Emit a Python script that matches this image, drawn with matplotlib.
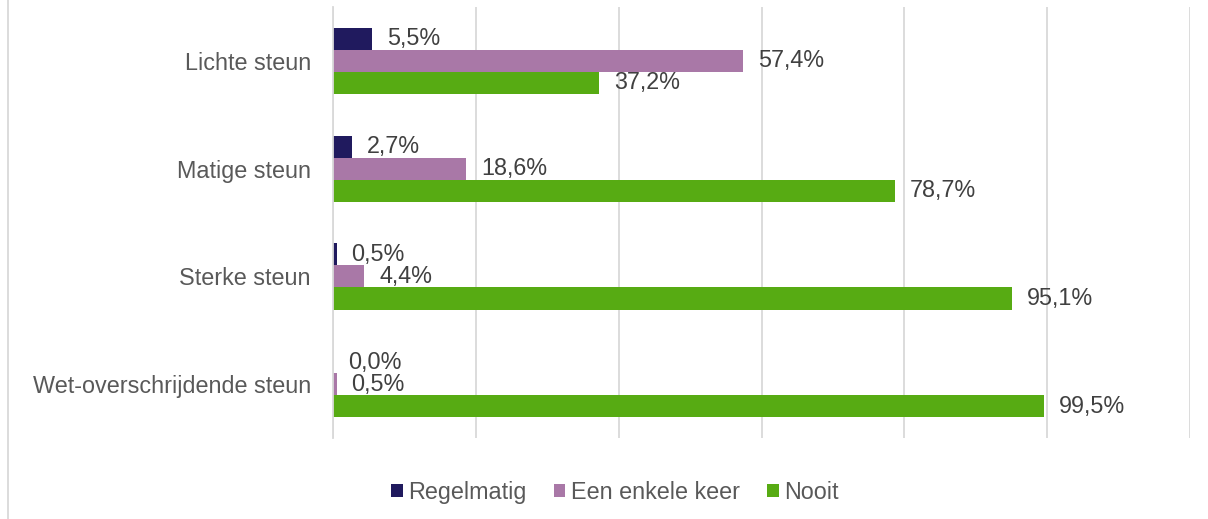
import matplotlib.pyplot as plt
import numpy as np
from matplotlib.lines import Line2D

# data
categories = ['Lichte steun', 'Matige steun', 'Sterke steun', 'Wet-overschrijdende steun']
series_names = ['Regelmatig', 'Een enkele keer', 'Nooit']
regelmatig = [5.5, 2.7, 0.5, 0.0]
enkele_keer = [57.4, 18.6, 4.4, 0.5]
nooit = [37.2, 78.7, 95.1, 99.5]
colors = ['#201a5e', '#a978a7', '#57ab13']

plt.rcParams['font.family'] = ['Liberation Sans', 'DejaVu Sans']
fs = 16.8

fig = plt.figure(figsize=(12.08, 5.19), dpi=100)
ax = fig.add_axes([0.2757, 0.156, 0.7094, 0.8305])

y = np.arange(len(categories))
h = 0.205
series = [regelmatig, enkele_keer, nooit]
for i, (vals, name, c) in enumerate(zip(series, series_names, colors)):
    pos = y + (i - 1) * h
    ax.barh(pos, vals, height=h, color=c, label=name)
    for p, v in zip(pos, vals):
        ax.text(v + 2.1, p, f'{v:.1f}%'.replace('.', ','), va='center', ha='left',
                fontsize=fs, color='#404040')

ax.set_xlim(0, 120)
ax.set_ylim(len(categories) - 0.5, -0.5)
ax.set_xticks(np.arange(0, 121, 20))
ax.set_xticklabels([])
ax.set_yticks(y)
ax.set_yticklabels(categories, fontsize=fs, color='#595959')
ax.tick_params(axis='both', length=0)
ax.tick_params(axis='y', pad=16)
ax.grid(axis='x', color='#d9d9d9', linewidth=1.3)
ax.set_axisbelow(True)
for s in ['top', 'right', 'bottom']:
    ax.spines[s].set_visible(False)
ax.spines['left'].set_color('#d9d9d9')
ax.spines['left'].set_linewidth(1.3)

leg = fig.legend(loc='center', bbox_to_anchor=(0.509, 0.052), ncol=3, frameon=False,
                 fontsize=fs, handlelength=0.5, handleheight=0.5, handletextpad=0.25,
                 columnspacing=1.15)
for t in leg.get_texts():
    t.set_color('#595959')

fig.add_artist(Line2D([8 / 1208, 8 / 1208], [0, 1], transform=fig.transFigure,
                      color='#d9d9d9', linewidth=1.3))

fig.savefig('out.png', dpi=100)
